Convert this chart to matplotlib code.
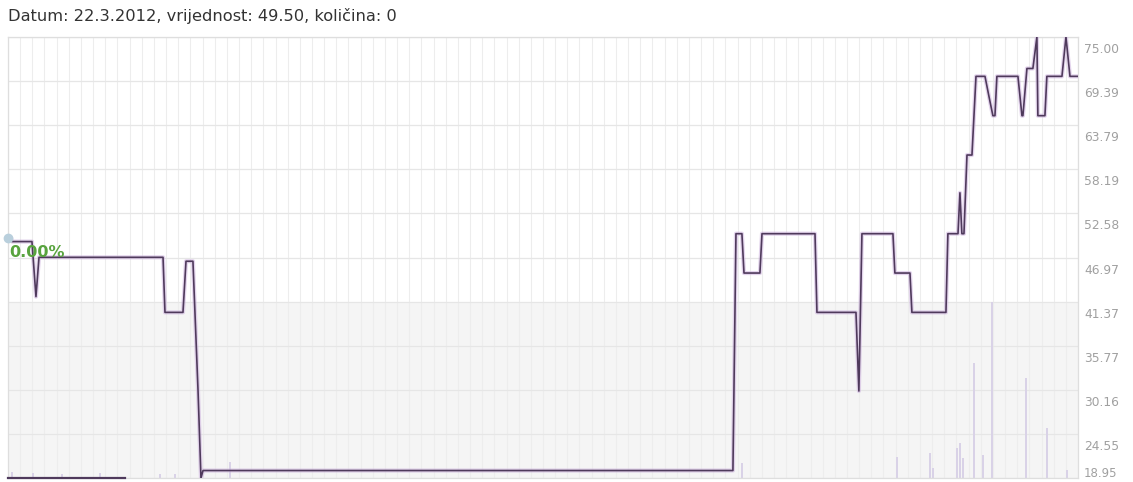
import matplotlib
matplotlib.use("Agg")
import matplotlib.pyplot as plt
from matplotlib.transforms import blended_transform_factory, ScaledTranslation

# ---- data ----
title_text = "Datum: 22.3.2012, vrijednost: 49.50, količina: 0"
change_label = "0.00%"

# time axis in "period" units (one grid column = 1)
price_x = [0.00, 0.25, 0.33, 1.97, 2.30, 2.55, 12.75, 12.91, 14.39, 14.64, 15.21,
           15.63, 15.87, 16.04, 59.62, 59.87, 60.36, 60.53, 61.84, 62.01, 66.37,
           66.53, 69.74, 69.98, 70.23, 72.78, 72.94, 74.18, 74.34, 77.14, 77.30,
           78.13, 78.29, 78.45, 78.62, 78.87, 79.28, 79.61, 80.35, 80.67, 81.00,
           81.17, 81.33, 83.06, 83.39, 83.47, 83.80, 84.29, 84.62, 84.70, 85.28,
           85.44, 86.68, 87.01, 87.34, 87.99]
price_y = [49.50, 49.50, 49.00, 49.00, 42.00, 47.00, 47.00, 40.00, 40.00, 46.50, 46.50,
           30.00, 18.95, 19.90, 19.90, 50.00, 50.00, 45.00, 45.00, 50.00, 50.00,
           40.00, 40.00, 30.00, 50.00, 50.00, 45.00, 45.00, 40.00, 40.00, 50.00,
           50.00, 55.20, 50.00, 50.00, 60.00, 60.00, 70.00, 70.00, 67.50, 65.00,
           65.00, 70.00, 70.00, 65.00, 65.00, 71.00, 71.00, 75.00, 65.00, 65.00,
           70.00, 70.00, 75.00, 70.00, 70.00]

nav_x = [0.00, 9.62]
nav_y = [18.95, 18.95]

vol_x = [0.33, 2.05, 4.44, 7.57, 12.50, 13.73, 18.26, 60.36, 73.11, 75.82, 76.07,
         78.04, 78.29, 78.54, 79.44, 80.18, 80.92, 83.72, 85.44, 87.09]
vol_y = [300, 250, 200, 250, 200, 200, 800, 750, 1050, 1250, 500,
         1500, 1750, 1000, 5750, 1150, 8800, 5000, 2500, 400]

y_ticks = [18.95, 24.55, 30.16, 35.77, 41.37, 46.97, 52.58, 58.19, 63.79, 69.39, 75.00]
y_min, y_max = 18.95, 75.00
x_max = 88
vol_top = y_ticks[4]   # volume pane reaches up to this price level

# ---- figure ----
W, H = 1133, 482
fig = plt.figure(figsize=(W / 100, H / 100), dpi=100)
left, right, top, bottom = 8, 1078, 37, 478
ax = fig.add_axes([left / W, (H - bottom) / H, (right - left) / W, (bottom - top) / H])
ax.set_xlim(0, x_max)
ax.set_ylim(y_min, y_max)

# shaded volume band
ax.axhspan(y_min, vol_top, color="#f5f5f5", zorder=0, lw=0)

# grid
for gx in range(0, x_max + 1):
    ax.axvline(gx, color="#ededed", lw=0.8, zorder=1)
for gy in y_ticks:
    ax.axhline(gy, color="#e6e6e6", lw=0.9, zorder=1)

for s in ax.spines.values():
    s.set_color("#dedede")
    s.set_linewidth(0.9)
ax.set_xticks([])
ax.set_yticks([])

# volume bars, scaled into the lower pane
vmax = max(vol_y)
vol_h = [v / vmax * (vol_top - y_min) for v in vol_y]
ax.bar(vol_x, vol_h, bottom=y_min, width=0.16, color="#d9d2e7", zorder=2, lw=0)

# price line (glow + core)
ax.plot(price_x, price_y, color="#cdb2de", lw=3.0, alpha=0.55, zorder=4)
ax.plot(price_x, price_y, color="#4f3a5c", lw=1.2, zorder=5)
ax.plot(nav_x, nav_y, color="#4f3a5c", lw=1.6, zorder=5, clip_on=False)
ax.plot([price_x[0]], [price_y[0]], "o", ms=6, color="#b9cfdc", zorder=6, clip_on=False)

ax.text(0.12, 47.6, change_label, color="#58a33e", fontsize=11.5, fontweight="bold",
        va="center", ha="left", zorder=7)

# right tick labels
tr = blended_transform_factory(ax.transAxes, ax.transData)
for i, v in enumerate(y_ticks):
    off = 3 / 72 if i == 0 else -9 / 72
    ax.text(1.0 + 6 / (right - left), v, f"{v:.2f}", color="#a0a0a0",
            fontsize=8.8 if i else 8.5,
            ha="left", va="center", clip_on=False,
            transform=tr + ScaledTranslation(0, off, fig.dpi_scale_trans))

fig.text(8 / W, 1 - 16 / H, title_text, color="#333333", fontsize=11.7, ha="left", va="center")

fig.savefig("out.png", dpi=100)
